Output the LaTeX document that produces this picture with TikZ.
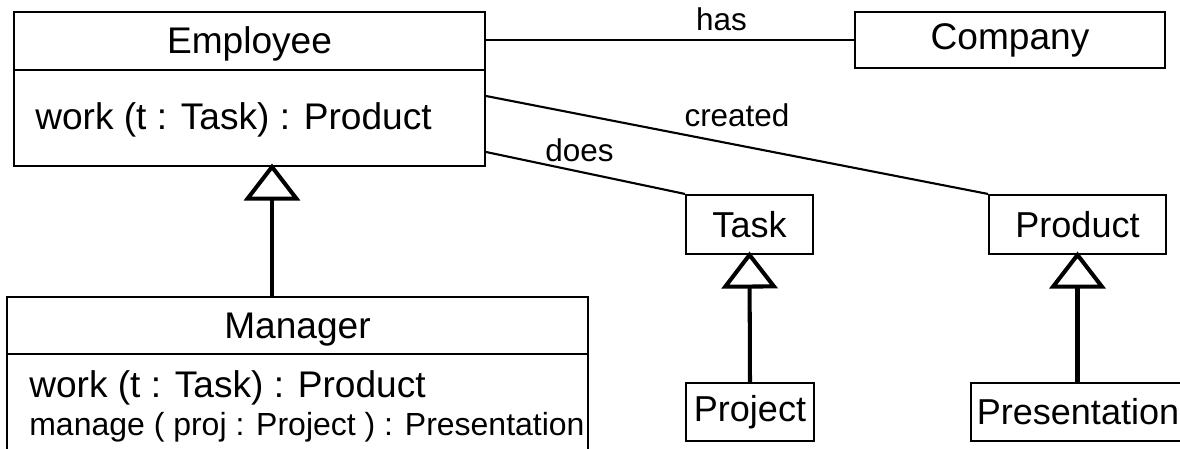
\documentclass[tikz,border=0pt]{standalone}
\usepackage{fontspec}
\setmainfont{Liberation Sans}
\usetikzlibrary{arrows.meta}

\tikzset{
  cls/.style={draw, line width=1.2pt, inner sep=0pt},
  big/.style={font=\fontsize{21.1pt}{24pt}\selectfont},
  small/.style={font=\fontsize{20.5pt}{24pt}\selectfont},
  lbl/.style={font=\fontsize{17.9pt}{20pt}\selectfont, inner sep=1pt},
  op/.style={font=\fontsize{18.2pt}{21pt}\selectfont},
  assoc/.style={line width=1.2pt},
  gen/.style={line width=2.3pt, shorten >=-0.07cm, -{Triangle[open, length=0.74cm, width=1.12cm]}}
}

\begin{document}
\begin{tikzpicture}
    \useasboundingbox (0,0) rectangle (23.6,-8.98);
    \clip (0,0) rectangle (23.6,-8.98);
      % nodes
        \node[cls, minimum width=9.42cm, minimum height=3.08cm] (emp) at (4.99,-1.78) {};
        \node[big, anchor=base] (empname) at (4.99,-1.08) {Employee};
        \node[big, anchor=base west, inner sep=0pt] (empop) at (0.70,-2.60) {work (t : Task) : Product};
        \draw[line width=1.2pt] (emp.west |- 0,-1.40) -- (emp.east |- 0,-1.40);

        \node[cls, big, minimum width=6.20cm, minimum height=1.12cm] (comp) at (20.20,-0.80) {Company};
        \node[cls, small, minimum width=2.54cm, minimum height=1.18cm] (task) at (14.99,-4.49) {Task};
        \node[cls, small, minimum width=3.54cm, minimum height=1.18cm] (prod) at (21.55,-4.49) {Product};
        \node[cls, small, minimum width=2.56cm, minimum height=1.16cm] (proj) at (15.00,-8.24) {Project};
        \node[cls, small, minimum width=4.28cm, minimum height=1.16cm] (pres) at (21.56,-8.24) {Presentation};

        \node[cls, minimum width=11.62cm, minimum height=3.46cm] (mgr) at (5.95,-7.67) {};
        \node[big, anchor=base] (mgrname) at (5.95,-6.78) {Manager};
        \draw[line width=1.2pt] (mgr.west |- 0,-7.08) -- (mgr.east |- 0,-7.08);
        \node[big, anchor=base west, inner sep=0pt] (mgrop1) at (0.58,-7.94) {work (t : Task) : Product};
        \node[op, anchor=base west, inner sep=0pt] (mgrop2) at (0.58,-8.71) {manage ( proj : Project ) : Presentation};
      % edges
        \draw[assoc] (comp.west -| emp.east) -- node[lbl, pos=0.64, above=0.12cm] {has} (comp.west);
        \draw[assoc] ([yshift=-0.14cm]emp.east) -- node[lbl, pos=0.5, above=0.3cm] {created} (prod.north west);
        \draw[assoc] ([yshift=-1.26cm]emp.east) -- node[lbl, pos=0.47, above=0.14cm] {does} (task.north west);
        \draw[gen] ([xshift=0.45cm]emp.south |- mgr.north) -- ([xshift=0.45cm]emp.south);
        \draw[gen] (proj.north) -- (task.south);
        \draw[gen] (pres.north -| prod.south) -- (prod.south);
\end{tikzpicture}
\end{document}
